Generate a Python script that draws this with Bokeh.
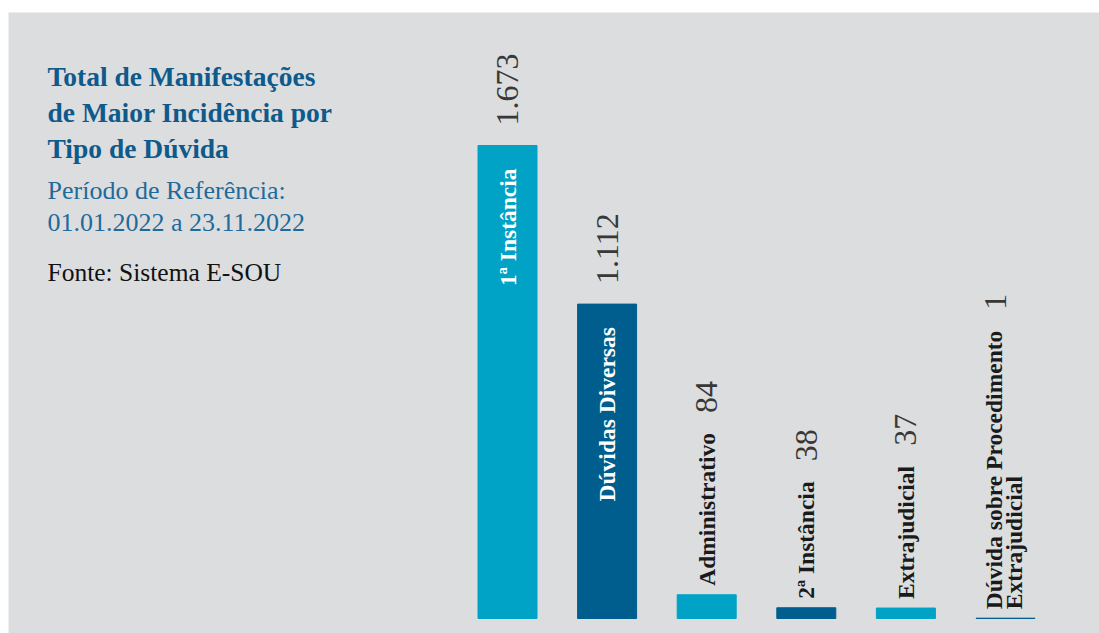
import math
from bokeh.plotting import figure
from bokeh.models import ColumnDataSource, Label, Range1d
from bokeh.core.properties import value
from bokeh.embed import file_html
from bokeh.resources import INLINE

# ---------------- data ----------------
categories = ["1ª Instância", "Dúvidas Diversas", "Administrativo",
              "2ª Instância", "Extrajudicial",
              "Dúvida sobre Procedimento\nExtrajudicial"]
counts = [1673, 1112, 84, 38, 37, 1]
title_lines = ["Total de Manifestações", "de Maior Incidência por", "Tipo de Dúvida"]
subtitle_lines = ["Período de Referência:", "01.01.2022 a 23.11.2022"]
source_line = "Fonte: Sistema E-SOU"

# ---------------- style ----------------
W, H = 1099, 633
LEFT, TOP = 8, 12
STEP = 99.6          # px per category
FIRST_PX = 507       # px centre of first bar
BASE_PY = 618        # px of baseline
MAX_TOP_PY = 145     # px of top of tallest bar
BAR_W = 59 / STEP
FONT = "Liberation Serif"
BG = "#dcdddf"
LIGHT = "#00a3c6"
DARK = "#005e8f"
TITLE_C = "#0d5a8b"
SUB_C = "#1f6a9a"
VAL_C = "#383838"
LAB_SIZE = 23.5
VAL_SIZE = 32

frame_w = W - LEFT
frame_h = H - TOP
x0 = -(FIRST_PX - LEFT) / STEP
x1 = x0 + frame_w / STEP
unit_px = (BASE_PY - MAX_TOP_PY) / max(counts)
y1 = (BASE_PY - TOP) / unit_px
y0 = -(H - BASE_PY) / unit_px


def px2x(px):
    return x0 + (px - LEFT) / STEP


def py2y(py):
    return y1 - (py - TOP) / unit_px


TB = {'A': 722, 'D': 722, 'E': 667, 'I': 389, 'P': 611, 'a': 500, 'b': 556,
      'c': 444, 'd': 556, 'e': 444, 'i': 278, 'j': 333, 'l': 278, 'm': 833,
      'n': 556, 'o': 500, 'r': 444, 's': 389, 't': 333, 'u': 556, 'v': 500,
      'x': 500, 'ú': 556, 'â': 500, 'ª': 300, ' ': 250}


def text_w(s, size):
    return sum(TB.get(ch, 500) for ch in s) / 1000 * size


p = figure(width=W, height=H, output_backend="svg", toolbar_location=None,
           x_range=Range1d(x0, x1), y_range=Range1d(y0, y1),
           x_axis_location=None, y_axis_location=None,
           min_border_left=LEFT, min_border_top=TOP,
           min_border_right=0, min_border_bottom=0)
p.background_fill_color = BG
p.border_fill_color = "white"
p.outline_line_color = None
p.xgrid.visible = False
p.ygrid.visible = False

xs = list(range(len(categories)))
colors = [LIGHT if i % 2 == 0 else DARK for i in xs]
bars = ColumnDataSource(dict(x=xs, top=counts, color=colors))
p.vbar(x="x", top="top", bottom=0, width=BAR_W, fill_color="color",
       line_color="color", line_width=1, source=bars)

# category labels and value labels
lx, ly, ltxt, lxo, lyo, lalign, lcol = [], [], [], [], [], [], []
vx, vy, vtxt, vxo, vyo = [], [], [], [], []
for i, (cat, v) in enumerate(zip(categories, counts)):
    lines = cat.split("\n")
    n = len(lines)
    inside = v > 500
    longest = max(text_w(l, LAB_SIZE) for l in lines)
    for k, line in enumerate(lines):
        lx.append(i)
        ly.append(v)
        ltxt.append(line)
        lxo.append((k - (n - 1) / 2) * 20 - 2 * (n - 1))
        if inside:
            lyo.append(23)
            lalign.append("right")
            lcol.append("white")
        else:
            lyo.append(-9)
            lalign.append("left")
            lcol.append("#1a1a1a")
    vx.append(i)
    vy.append(v)
    vtxt.append(f"{v:,}".replace(",", "."))
    vxo.append(-(n - 1) * 10)
    vyo.append(-20 if inside else -(9 + longest + 20))

lsrc = ColumnDataSource(dict(x=lx, y=ly, text=ltxt, xo=lxo, yo=lyo,
                             align=lalign, color=lcol))
p.text(x="x", y="y", text="text", x_offset="xo", y_offset="yo",
       text_align="align", text_color="color", text_baseline="middle",
       angle=math.pi / 2, text_font=value(FONT), text_font_style="bold",
       text_font_size=f"{LAB_SIZE}px", source=lsrc)

vsrc = ColumnDataSource(dict(x=vx, y=vy, text=vtxt, xo=vxo, yo=vyo))
p.text(x="x", y="y", text="text", x_offset="xo", y_offset="yo",
       text_align="left", text_baseline="middle", text_color=VAL_C,
       angle=math.pi / 2, text_font=value(FONT),
       text_font_size=f"{VAL_SIZE}px", source=vsrc)

# title block
for k, t in enumerate(title_lines):
    p.add_layout(Label(x=px2x(47), y=py2y(76 + 36 * k), text=t,
                       text_font=FONT, text_font_style="bold",
                       text_font_size="27.5px", text_color=TITLE_C,
                       text_baseline="alphabetic", text_align="left"))
for k, t in enumerate(subtitle_lines):
    p.add_layout(Label(x=px2x(47), y=py2y(190 + 32 * k), text=t,
                       text_font=FONT, text_font_size="26px",
                       text_color=SUB_C, text_baseline="alphabetic",
                       text_align="left"))
p.add_layout(Label(x=px2x(47), y=py2y(272), text=source_line,
                   text_font=FONT, text_font_size="25.5px", text_color="#111111",
                   text_baseline="alphabetic", text_align="left"))

open("out.html", "w").write(file_html(p, INLINE))
